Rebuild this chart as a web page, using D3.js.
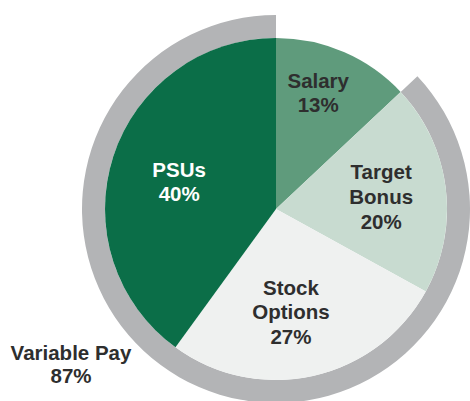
<!DOCTYPE html>
<html>
<head>
<meta charset="utf-8">
<script src="https://cdn.jsdelivr.net/npm/d3@7"></script>
<style>
  html, body { margin: 0; padding: 0; background: #ffffff; }
  svg { display: block; }
</style>
</head>
<body>
<svg id="chart" width="470" height="401"></svg>
<script>
// ---- data ----
const categories = ["Salary", "Target Bonus", "Stock Options", "PSUs"];
const labelLines = [["Salary"], ["Target", "Bonus"], ["Stock", "Options"], ["PSUs"]];
const values = [13, 20, 27, 40];
const variablePayLabel = ["Variable Pay", "87%"];
const variablePayValue = 87;

// ---- styles (not data) ----
const colors = ["#5f9b7c", "#c8dbd0", "#eff1f0", "#0b6e48"];
const textColors = ["#2e2e2e", "#2e2e2e", "#2e2e2e", "#ffffff"];
// small label nudges in px, keyed by category
const nudge = {
  "Salary": [-7, -2.5],
  "Target Bonus": [1, 1],
  "Stock Options": [-8, 0.5],
  "PSUs": [3, 5]
};

// ---- layout ----
const svg = d3.select("#chart");
const cx = 276, cy = 209;
const R = 171, ringOuter = 194;
const fontSize = 20.5, lineH = 24.7;

const g = svg.append("g").attr("transform", `translate(${cx},${cy})`);

const total = d3.sum(values);
const pie = d3.pie().sort(null).value(d => d);
const arcs = pie(values);

const arc = d3.arc().innerRadius(0).outerRadius(R);

// variable pay ring: spans from end of Salary around to full circle
const startAngle = (1 - variablePayValue / total) * 2 * Math.PI;
const ringArc = d3.arc().innerRadius(R).outerRadius(ringOuter)
  .startAngle(startAngle).endAngle(2 * Math.PI);
g.append("path").attr("d", ringArc()).attr("fill", "#b3b4b6");

g.selectAll("path.slice").data(arcs).enter().append("path")
  .attr("class", "slice")
  .attr("d", arc)
  .attr("fill", (d, i) => colors[i]);

// labels
arcs.forEach((d, i) => {
  const share = values[i] / total;
  const lr = share < 0.15 ? 124 : 105;
  const c = d3.arc().innerRadius(lr).outerRadius(lr).centroid(d);
  const nd = nudge[categories[i]] || [0, 0];
  const x = c[0] + nd[0], y = c[1] + nd[1];
  const lines = labelLines[i].concat([values[i] + "%"]);
  const n = lines.length;
  const capH = fontSize * 0.716;
  const blockH = capH + (n - 1) * lineH;
  const firstBase = y - blockH / 2 + capH;
  const t = g.append("text")
    .attr("text-anchor", "middle")
    .attr("font-family", "'Liberation Sans', Arial, sans-serif")
    .attr("font-weight", "bold")
    .attr("font-size", fontSize)
    .attr("fill", textColors[i]);
  lines.forEach((ln, j) => {
    t.append("tspan").attr("x", x).attr("y", firstBase + j * lineH).text(ln);
  });
});

// variable pay label
const vp = svg.append("text")
  .attr("text-anchor", "middle")
  .attr("font-family", "'Liberation Sans', Arial, sans-serif")
  .attr("font-weight", "bold")
  .attr("font-size", fontSize)
  .attr("fill", "#2e2e2e");
variablePayLabel.forEach((ln, j) => {
  vp.append("tspan").attr("x", 71).attr("y", 360 + j * 23.3).text(ln);
});
</script>
</body>
</html>
